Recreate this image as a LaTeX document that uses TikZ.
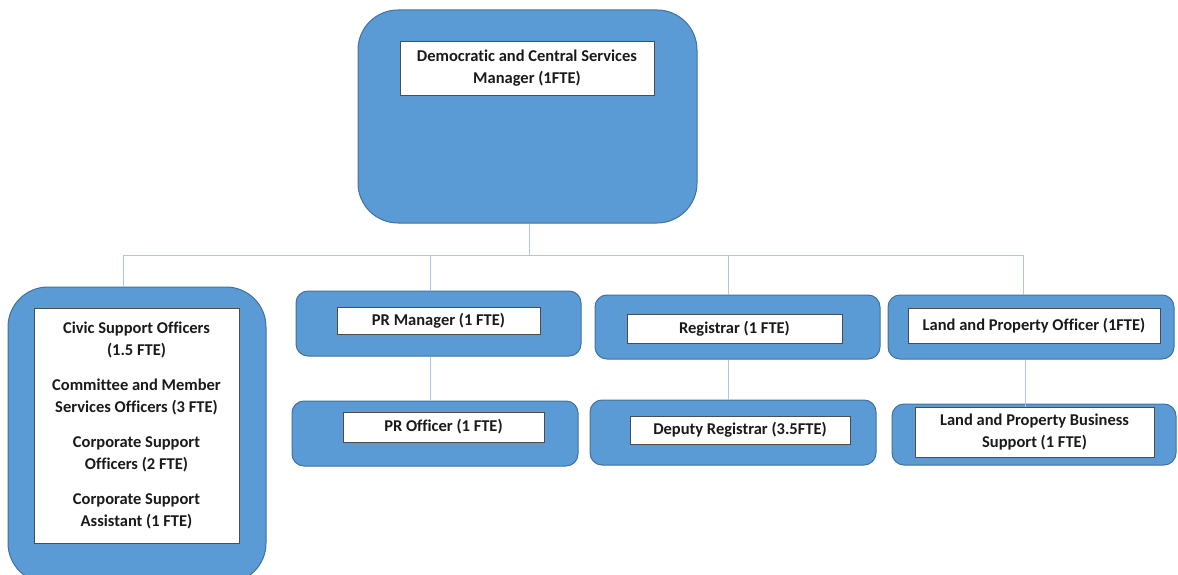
\documentclass[tikz,border=0pt]{standalone}
\usepackage{fontspec}
\setmainfont{Carlito}[Ligatures=NoCommon]
\definecolor{boxblue}{HTML}{5B9BD5}
\definecolor{boxedge}{HTML}{41719C}
\definecolor{linkblue}{HTML}{A9C8E8}
\definecolor{textdark}{HTML}{1A1A1A}
\tikzset{
  outerbox/.style={draw=boxedge, fill=boxblue, line width=1pt, rounded corners=#1, inner sep=0pt},
  outerbox/.default=12pt,
  innerbox/.style={draw=black!70, fill=white, line width=0.7pt, inner sep=1pt, align=center,
    text=textdark, font=\fontsize{16.5}{22}\selectfont\bfseries},
  link/.style={draw=linkblue, line width=1pt}
}
\begin{document}
\begin{tikzpicture}[x=1pt,y=-1pt]
\useasboundingbox (0,0) rectangle (1178,575);

% top manager
\node[outerbox=40pt, minimum width=339pt, minimum height=213pt] (dcsm) at (527.5,116.5) {};
\node[innerbox, minimum width=254pt, minimum height=54pt] (dcsmt) at (527,68)
  {Democratic and Central Services\\Manager (1FTE)};

% left team
\node[outerbox=40pt, minimum width=258pt, minimum height=296pt] (civic) at (137,435) {};
\node[innerbox, minimum width=205pt, minimum height=235pt] (civict) at (136.5,425.5)
  {Civic Support Officers\\(1.5 FTE)\\[13pt]
   Committee and Member\\Services Officers (3 FTE)\\[13pt]
   Corporate Support\\Officers (2 FTE)\\[13pt]
   Corporate Support\\Assistant (1 FTE)};

% PR
\node[outerbox, minimum width=285pt, minimum height=65pt] (prm) at (438.5,323.5) {};
\node[innerbox, minimum width=203pt, minimum height=27pt] (prmt) at (438.5,320.5) {PR Manager (1 FTE)};
\node[outerbox, minimum width=286pt, minimum height=65pt] (pro) at (435,433.5) {};
\node[innerbox, minimum width=201pt, minimum height=30pt] (prot) at (443.5,427) {PR Officer (1 FTE)};

% registrar
\node[outerbox, minimum width=285pt, minimum height=64pt] (reg) at (737.5,327) {};
\node[innerbox, minimum width=215pt, minimum height=29pt] (regt) at (734.5,328.5) {Registrar (1 FTE)};
\node[outerbox, minimum width=286pt, minimum height=65pt] (dreg) at (733,432.5) {};
\node[innerbox, minimum width=220pt, minimum height=28pt] (dregt) at (740,430) {Deputy Registrar (3.5FTE)};

% land and property
\node[outerbox, minimum width=286pt, minimum height=64pt] (lpo) at (1031,327) {};
\node[innerbox, minimum width=252pt, minimum height=35pt] (lpot) at (1034,325.5) {Land and Property Officer (1FTE)};
\node[outerbox, minimum width=284pt, minimum height=61pt] (lpb) at (1034,434.5) {};
\node[innerbox, minimum width=239pt, minimum height=50pt] (lpbt) at (1034.5,432)
  {Land and Property Business\\Support (1 FTE)};

% connectors
\coordinate (bus) at (529,255);
\coordinate (d1) at (123,255);
\coordinate (d2) at (430,255);
\coordinate (d3) at (728,255);
\coordinate (d4) at (1023,255);
\draw[link] (dcsm.south -| bus) -- (bus);
\draw[link] (d1) -- (d4);
\draw[link] (d1) -- (d1 |- civic.north);
\draw[link] (d2) -- (d2 |- prm.north);
\draw[link] (d3) -- (d3 |- reg.north);
\draw[link] (d4) -- (d4 |- lpo.north);
\draw[link] (prm.south -| d2) -- (d2 |- pro.north);
\draw[link] (reg.south -| d3) -- (d3 |- dreg.north);
\draw[link] (lpo.south -| 1025,0) -- (1025,0 |- lpbt.north);
\end{tikzpicture}
\end{document}
